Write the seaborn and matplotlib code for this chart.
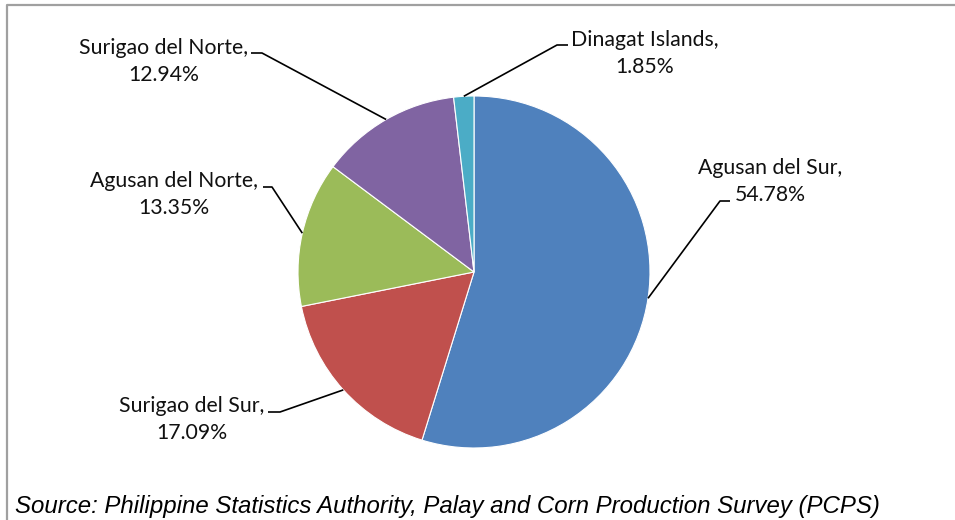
import seaborn as sns
from matplotlib import pyplot as plt
import numpy as np

W, H = 955, 520

REGIONS = ["Agusan del Sur", "Surigao del Sur", "Agusan del Norte", "Surigao del Norte", "Dinagat Islands"]
SHARES = [54.78, 17.09, 13.35, 12.94, 1.85]
COLORS = ["#4f81bd", "#c0504d", "#9bbb59", "#8064a2", "#4bacc6"]
SOURCE = "Source: Philippine Statistics Authority, Palay and Corn Production Survey (PCPS)"

# layout in pixels from top-left: label (center x, last-line baseline), leader elbow (x, y, end x)
LABEL_XY = [(770, 201), (192, 439), (174, 214), (164, 81), (645, 73)]
ELBOWS = [(720, 201, 730), (280, 412, 268), (272, 187, 263), (262, 53, 251), (557, 45, 568)]

sns.set_theme(style="white")
plt.rcParams["font.family"] = ["Lato", "DejaVu Sans"]

fig = plt.figure(figsize=(W / 100, H / 100), dpi=100)
ax = fig.add_axes([0, 0, 1, 1])

wedges, _ = ax.pie(SHARES, colors=COLORS, startangle=90, counterclock=False,
                   center=(474, H - 272), radius=176,
                   wedgeprops=dict(edgecolor="white", linewidth=0.8))
ax.set_xlim(0, W)
ax.set_ylim(0, H)
ax.set_aspect("equal")
ax.axis("off")

for w, name, share, (lx, ly), (ex, ey, tx) in zip(wedges, REGIONS, SHARES, LABEL_XY, ELBOWS):
    mid = np.deg2rad((w.theta1 + w.theta2) / 2)
    px = w.center[0] + w.r * np.cos(mid)
    py = w.center[1] + w.r * np.sin(mid)
    ax.plot([px, ex, tx], [py, H - ey, H - ey], color="black", lw=1.2, solid_capstyle="butt")
    ax.text(lx, H - ly, f"{name},\n{share:.2f}%", ha="center", va="baseline",
            fontsize=15.3, color="#111111", linespacing=1.45, multialignment="center")

# chart frame (only top and left edges visible in the crop)
ax.plot([7, 7, W + 5], [-5, H - 5, H - 5], color="#a0a0a0", lw=1.6, clip_on=False)

ax.text(15, H - 513, SOURCE, family=["Liberation Sans", "DejaVu Sans"], fontstyle="italic",
        fontsize=17.25, color="black", va="baseline", ha="left")

fig.savefig("out.png", dpi=100)
